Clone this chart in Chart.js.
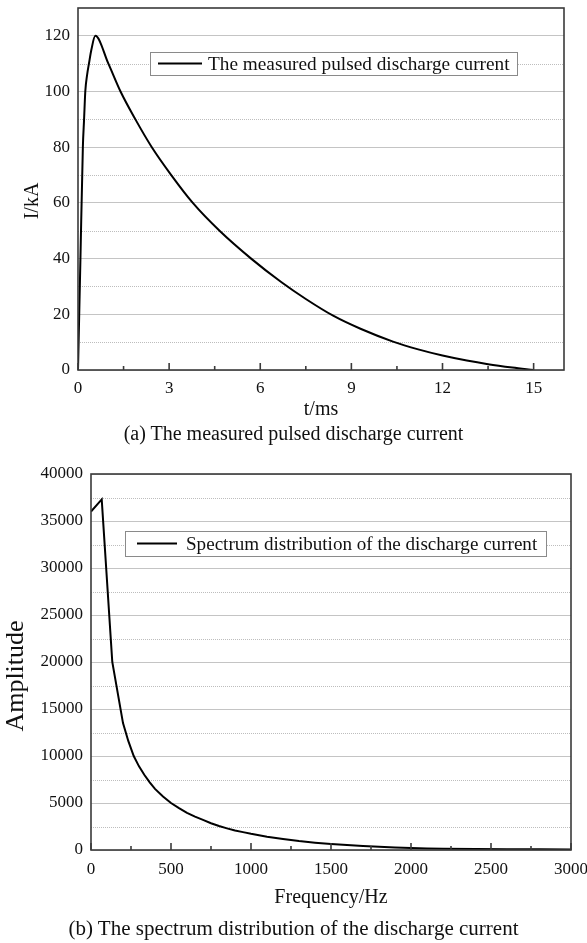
<!DOCTYPE html>
<html><head><meta charset="utf-8">
<script src="https://cdn.jsdelivr.net/npm/chart.js@4.4.0/dist/chart.umd.min.js"></script>
<style>
html,body{margin:0;padding:0;background:#fff;width:587px;height:943px;overflow:hidden;}
.wrap{position:absolute;left:0;width:587px;}
.cap{position:absolute;left:0;width:587px;text-align:center;font-family:"Liberation Serif","Times New Roman",serif;color:#111;white-space:nowrap;line-height:24px;}
</style></head><body>
<div class="wrap" style="top:0;height:425px"><canvas id="c1" width="587" height="425"></canvas></div>
<div class="cap" style="top:421px;font-size:20px">(a) The measured pulsed discharge current</div>
<div class="wrap" style="top:440px;height:470px"><canvas id="c2" width="587" height="470"></canvas></div>
<div class="cap" style="top:916px;font-size:21px">(b) The spectrum distribution of the discharge current</div>
<script>
// ---- data ----
const timeMs = [0, 0.08, 0.16, 0.2, 0.24, 0.3, 0.36, 0.44, 0.57, 1.0, 1.40, 1.89, 2.43, 3.07, 3.78, 4.66, 5.70, 6.70, 7.5, 8.4, 9.3, 10.37, 11.2, 12.0, 12.8, 13.5, 14.3, 15.0];
const currentKA = [0, 40, 80, 90, 100, 106, 110, 115, 120, 110, 100, 90, 80, 70, 60, 50, 40, 31.5, 25.5, 19.5, 14.8, 10.2, 7.4, 5.2, 3.4, 2.1, 0.9, 0];
const timeTicks = [0, 3, 6, 9, 12, 15];
const currentTicks = [0, 20, 40, 60, 80, 100, 120];

const freqHz = [0, 67, 133, 200, 233, 267, 300, 333, 367, 400, 450, 500, 550, 600, 650, 700, 750, 800, 850, 900, 950, 1000, 1100, 1200, 1300, 1400, 1500, 1600, 1700, 1800, 1900, 2000, 2100, 2200, 2400, 2600, 2800, 3000];
const amplitude = [36000, 37300, 20000, 13500, 11600, 10000, 8900, 8000, 7200, 6500, 5700, 5000, 4450, 3950, 3550, 3200, 2850, 2550, 2300, 2080, 1900, 1720, 1420, 1170, 950, 780, 640, 520, 420, 340, 270, 210, 170, 140, 110, 90, 75, 60];
const freqTicks = [0, 500, 1000, 1500, 2000, 2500, 3000];
const ampTicks = [0, 5000, 10000, 15000, 20000, 25000, 30000, 35000, 40000];

const label1 = 'The measured pulsed discharge current';
const label2 = 'Spectrum distribution of the discharge current';

const SERIF = '"Liberation Serif","Times New Roman",serif';

function mids(arr){ const m=[]; for(let i=0;i<arr.length-1;i++) m.push((arr[i]+arr[i+1])/2); return m; }

const decor = {
  id: 'decor',
  beforeDatasetsDraw(chart, args, o) {
    const {ctx, chartArea: a} = chart;
    const ys = chart.scales.y;
    ctx.save();
    ctx.strokeStyle = '#bdbdbd';
    ctx.lineWidth = 1;
    ctx.setLineDash([1, 1]);
    mids(o.yTicks).forEach(v => {
      const py = Math.round(ys.getPixelForValue(v)) + 0.5;
      ctx.beginPath(); ctx.moveTo(a.left, py); ctx.lineTo(a.right, py); ctx.stroke();
    });
    ctx.restore();
  },
  afterDraw(chart, args, o) {
    const {ctx, chartArea: a} = chart;
    const xs = chart.scales.x;
    ctx.save();
    ctx.strokeStyle = '#3a3a3a';
    ctx.lineWidth = 1.6;
    ctx.strokeRect(a.left, a.top, a.right - a.left, a.bottom - a.top);
    o.xTicks.forEach(v => {
      const px = xs.getPixelForValue(v);
      ctx.beginPath(); ctx.moveTo(px, a.bottom); ctx.lineTo(px, a.bottom - 7); ctx.stroke();
    });
    mids(o.xTicks).forEach(v => {
      const px = xs.getPixelForValue(v);
      ctx.beginPath(); ctx.moveTo(px, a.bottom); ctx.lineTo(px, a.bottom - 4); ctx.stroke();
    });
    // y title
    const T = o.yTitle;
    ctx.save();
    ctx.translate(T.x, T.y);
    ctx.rotate(-Math.PI / 2);
    ctx.fillStyle = '#111';
    ctx.font = T.size + 'px ' + SERIF;
    ctx.textAlign = 'center';
    ctx.textBaseline = 'middle';
    ctx.fillText(T.text, 0, 0);
    ctx.restore();
    // legend
    const L = o.legend;
    ctx.fillStyle = '#fff';
    ctx.fillRect(L.x, L.y, L.w, L.h);
    ctx.strokeStyle = '#8a8a8a';
    ctx.lineWidth = 1;
    ctx.strokeRect(L.x + 0.5, L.y + 0.5, L.w, L.h);
    const cy = L.y + L.h / 2;
    ctx.strokeStyle = '#000';
    ctx.lineWidth = 2;
    ctx.beginPath(); ctx.moveTo(L.x + L.lx0, cy); ctx.lineTo(L.x + L.lx1, cy); ctx.stroke();
    ctx.fillStyle = '#111';
    ctx.font = L.font + 'px ' + SERIF;
    ctx.textBaseline = 'middle';
    ctx.textAlign = 'left';
    ctx.fillText(chart.data.datasets[0].label, L.x + L.tx, cy + 1);
    ctx.restore();
  }
};

function makeChart(id, xs, ys, label, cfg) {
  return new Chart(document.getElementById(id), {
    type: 'line',
    data: { datasets: [{ label, data: xs.map((x, i) => ({x, y: ys[i]})), borderColor: '#000', borderWidth: 2, pointRadius: 0, tension: 0, cubicInterpolationMode: cfg.interp, fill: false }] },
    options: {
      responsive: false, animation: false,
      layout: { padding: cfg.padding },
      plugins: { legend: { display: false }, tooltip: { enabled: false },
        decor: { xTicks: cfg.xTicks, yTicks: cfg.yTicks, legend: cfg.legend, yTitle: cfg.yTitle } },
      scales: {
        x: {
          type: 'linear', min: cfg.xMin, max: cfg.xMax,
          afterBuildTicks: s => { s.ticks = cfg.xTicks.map(v => ({value: v})); },
          afterFit: s => { s.height = cfg.xH; s.paddingLeft = 0; s.paddingRight = 0; },
          grid: { display: false, drawTicks: false },
          border: { display: false },
          ticks: { padding: cfg.xTickPad, color: '#111', font: { family: SERIF, size: 17 }, maxRotation: 0, autoSkip: false, callback: v => String(v) },
          title: { display: true, text: cfg.xTitle, color: '#111', font: { family: SERIF, size: 20 }, padding: { top: 0, bottom: cfg.xTitlePad } }
        },
        y: {
          type: 'linear', min: cfg.yMin, max: cfg.yMax,
          afterBuildTicks: s => { s.ticks = cfg.yTicks.map(v => ({value: v})); },
          afterFit: s => { s.width = cfg.yW; s.paddingTop = 0; s.paddingBottom = 0; },
          grid: { color: '#c4c4c4', lineWidth: 1, drawTicks: false },
          border: { display: false },
          ticks: { padding: 8, color: '#111', font: { family: SERIF, size: 17 }, autoSkip: false, callback: v => String(v) },
          title: { display: false }
        }
      }
    },
    plugins: [decor]
  });
}

makeChart('c1', timeMs, currentKA, label1, {
  interp: 'monotone',
  padding: { top: 8, right: 23, left: 0, bottom: 0 },
  xMin: 0, xMax: 16, yMin: 0, yMax: 130,
  xTicks: timeTicks, yTicks: currentTicks,
  xH: 55, yW: 78, xTickPad: 8, xTitlePad: 3,
  xTitle: 't/ms',
  yTitle: { text: 'I/kA', x: 33, y: 201, size: 20 },
  legend: { x: 150, y: 52, w: 367, h: 23, lx0: 8, lx1: 52, tx: 58, font: 19.3 }
});

makeChart('c2', freqHz, amplitude, label2, {
  interp: 'default',
  padding: { top: 34, right: 16, left: 0, bottom: 0 },
  xMin: 0, xMax: 3000, yMin: 0, yMax: 40000,
  xTicks: freqTicks, yTicks: ampTicks,
  xH: 60, yW: 91, xTickPad: 9, xTitlePad: 0,
  xTitle: 'Frequency/Hz',
  yTitle: { text: 'Amplitude', x: 16, y: 236, size: 26 },
  legend: { x: 125, y: 91, w: 421, h: 25, lx0: 12, lx1: 52, tx: 61, font: 19.1 }
});
</script>
</body></html>
